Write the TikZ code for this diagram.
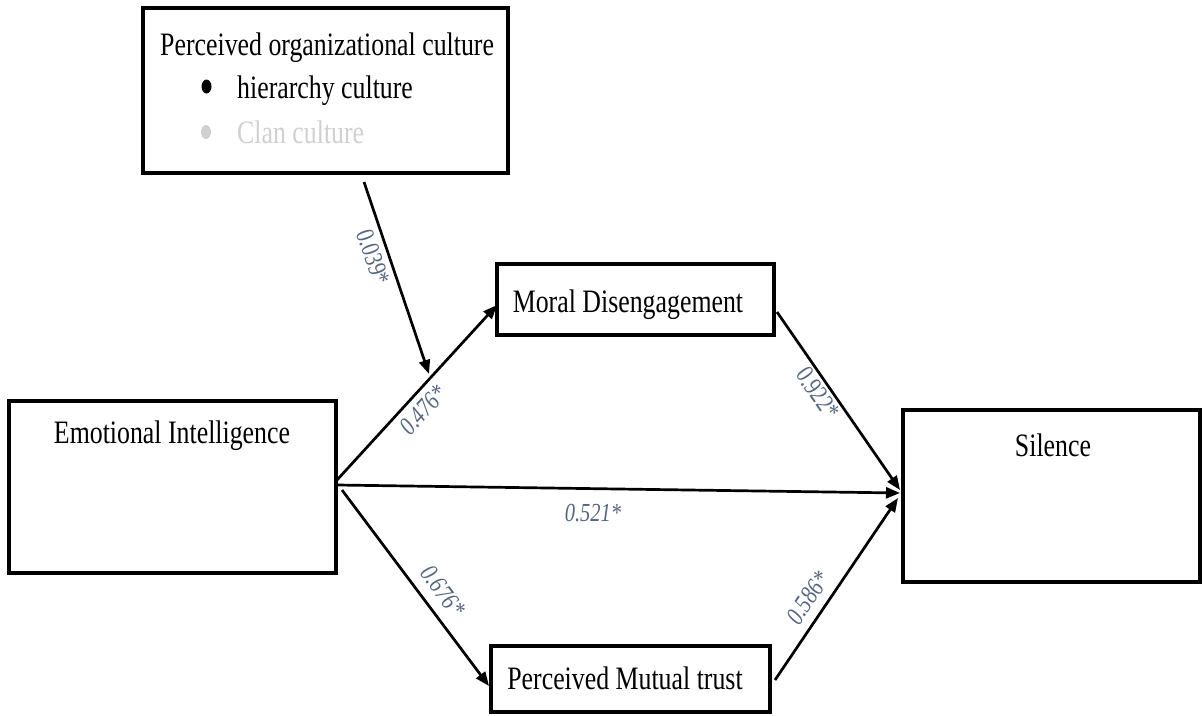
\documentclass[tikz,border=0pt]{standalone}
\usepackage{fontspec}
\setmainfont{Liberation Serif}[FakeStretch=0.79]
\usetikzlibrary{arrows.meta,calc,shapes.geometric}
\definecolor{coef}{RGB}{85,102,130}
\definecolor{faded}{RGB}{208,208,208}
\begin{document}
\begin{tikzpicture}[x=1pt,y=-1pt,
  box/.style={draw,line width=3.5pt,inner sep=0pt,outer sep=0pt},
  lbl/.style={font=\fontsize{32.7}{36}\selectfont,inner sep=0pt},
  dot/.style={ellipse,inner sep=0pt,minimum width=10pt,minimum height=14pt},
  coeff/.style={font=\fontsize{26}{28}\selectfont,text=coef,inner sep=0pt},
  link/.style={line width=2.7pt,-{Triangle[length=14pt,width=11pt]}}]
\useasboundingbox (0,0) rectangle (1202,715);

% construct boxes
\node[box,minimum width=365pt,minimum height=165pt] (culture) at (325.5,90.5) {};
\node[box,minimum width=277pt,minimum height=71pt]  (md)  at (635.5,299.5) {};
\node[box,minimum width=327pt,minimum height=172pt] (ei)  at (172.5,487) {};
\node[box,minimum width=279pt,minimum height=66pt]  (pmt) at (630.5,679) {};
\node[box,minimum width=297pt,minimum height=172pt] (sil) at (1051.5,496) {};

% box texts
\node[lbl,anchor=base west] (cultT) at (160,55) {Perceived organizational culture};
\node[dot,fill=black] (b1) at (206.5,86.5) {};
\node[lbl,anchor=base west] (hier) at (237,98) {hierarchy culture};
\node[dot,fill=faded] (b2) at (206,132) {};
\node[lbl,anchor=base west,text=faded] (clan) at (237,143) {Clan culture};
\node[lbl,anchor=base] (mdT)  at (628,312) {Moral Disengagement};
\node[lbl,anchor=base] (eiT)  at (172,443) {Emotional Intelligence};
\node[lbl,anchor=base] (pmtT) at (625,689) {Perceived Mutual trust};
\node[lbl,anchor=base] (silT) at (1053,456) {Silence};

% moderation arrow onto the a-path
\coordinate (modS) at ($(culture.south)+(38.5,9)$);
\coordinate (modE) at (429,374);
\draw[link] (modS) -- (modE);

% structural paths
\draw[link] ($(ei.east)+(1,-7)$) -- ($(md.west)+(0,5.5)$);
\draw[link] ($(ei.east)+(1,-2)$) -- ($(sil.west)+(-3,-3)$);
\draw[link] ($(ei.east)+(6,3)$) -- ($(pmt.west)+(-2,7)$);
\draw[link] ($(md.east)+(3,12.5)$) -- ($(sil.west)+(-3,-6)$);
\draw[link] ($(pmt.east)+(5,1)$) -- ($(sil.west)+(-5,2)$);

% path coefficients
\node[coeff,rotate=-70.8] (c1) at (373,257) {0.039*};
\node[coeff,rotate=47.6]  (c2) at (423,410) {\itshape 0.476*};
\node[coeff]              (c3) at (593,513) {\itshape 0.521*};
\node[coeff,rotate=-53.1] (c4) at (443,591) {\itshape 0.676*};
\node[coeff,rotate=-55.4] (c5) at (818,393) {0.922*};
\node[coeff,rotate=55.9]  (c6) at (808,598) {\itshape 0.586*};
\end{tikzpicture}
\end{document}
